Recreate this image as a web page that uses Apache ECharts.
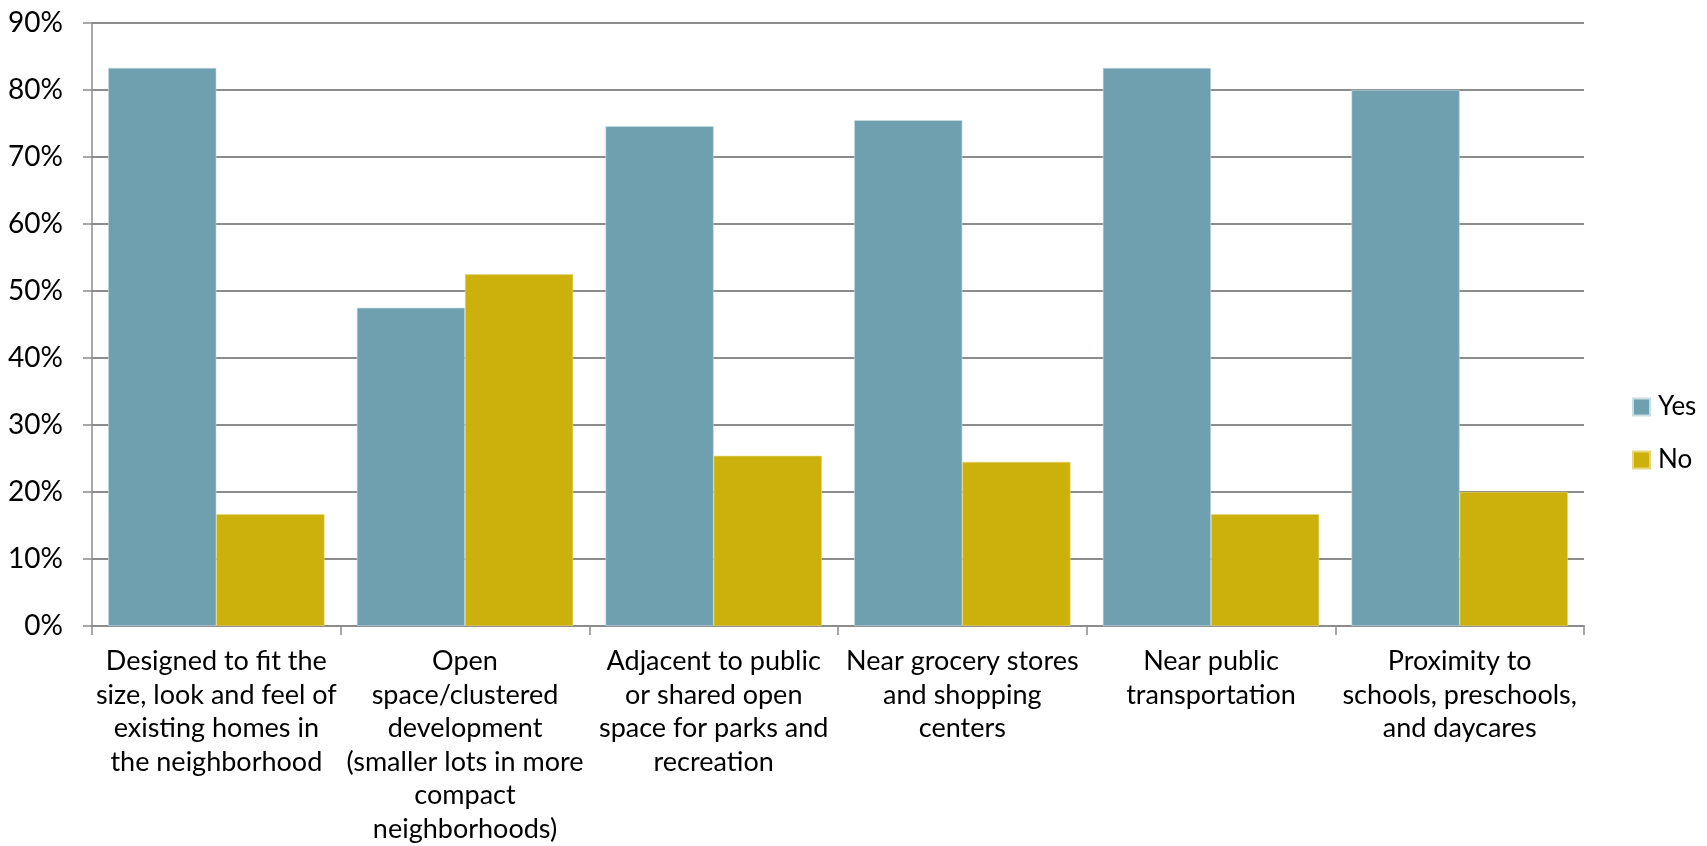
<!DOCTYPE html>
<html>
<head>
<meta charset="utf-8">
<script src="https://cdn.jsdelivr.net/npm/echarts@6/dist/echarts.min.js"></script>
<style>
html,body{margin:0;padding:0;background:#fff;}
#chart{width:1707px;height:846px;}
</style>
</head>
<body>
<div id="chart"></div>
<script>
const categories = [
  "Designed to fit the\nsize, look and feel of\nexisting homes in\nthe neighborhood",
  "Open\nspace/clustered\ndevelopment\n(smaller lots in more\ncompact\nneighborhoods)",
  "Adjacent to public\nor shared open\nspace for parks and\nrecreation",
  "Near grocery stores\nand shopping\ncenters",
  "Near public\ntransportation",
  "Proximity to\nschools, preschools,\nand daycares"
];
const seriesNames = ["Yes", "No"];
const yesValues = [83.3, 47.5, 74.6, 75.5, 83.3, 80.0];
const noValues = [16.7, 52.5, 25.4, 24.5, 16.7, 20.0];

const FONT = 'Lato, "Open Sans", sans-serif';
const chart = echarts.init(document.getElementById('chart'));
chart.setOption({
  animation: false,
  backgroundColor: '#fff',
  textStyle: { fontFamily: FONT, color: '#000' },
  grid: { left: 92, right: 123, top: 23, bottom: 220, containLabel: false },
  legend: {
    orient: 'vertical',
    left: 1627,
    top: 389,
    itemWidth: 17,
    itemHeight: 17,
    itemGap: 27,
    icon: 'rect',
    data: seriesNames,
    textStyle: { fontFamily: FONT, fontSize: 26, color: '#000', lineHeight: 26, padding: [0, 0, 0, 3] }
  },
  xAxis: {
    type: 'category',
    data: categories,
    axisLine: { show: true, lineStyle: { color: '#8c8c8c', width: 2 } },
    axisTick: { show: true, length: 9, lineStyle: { color: '#8c8c8c', width: 1.5 } },
    axisLabel: {
      interval: 0,
      margin: 19,
      fontFamily: FONT,
      fontSize: 27,
      lineHeight: 33.5,
      color: '#000',
      align: 'center'
    },
    splitLine: { show: false }
  },
  yAxis: {
    type: 'value',
    min: 0,
    max: 90,
    interval: 10,
    axisLine: { show: true, lineStyle: { color: '#8c8c8c', width: 1.5 } },
    axisTick: { show: true, length: 9, lineStyle: { color: '#8c8c8c', width: 1.5 } },
    axisLabel: { formatter: '{value}%', margin: 29, fontFamily: FONT, fontSize: 28, color: '#000' },
    splitLine: { show: true, lineStyle: { color: '#8c8c8c', width: 2 } }
  },
  series: [
    {
      name: seriesNames[0],
      type: 'bar',
      data: yesValues,
      barGap: '0%',
      barCategoryGap: '13%',
      itemStyle: { color: '#6fa0b0', borderColor: '#c9dde4', borderWidth: 0.6 }
    },
    {
      name: seriesNames[1],
      type: 'bar',
      data: noValues,
      barGap: '0%',
      barCategoryGap: '13%',
      itemStyle: { color: '#ccb00b', borderColor: '#e6d77e', borderWidth: 0.6 }
    }
  ]
});
</script>
</body>
</html>
